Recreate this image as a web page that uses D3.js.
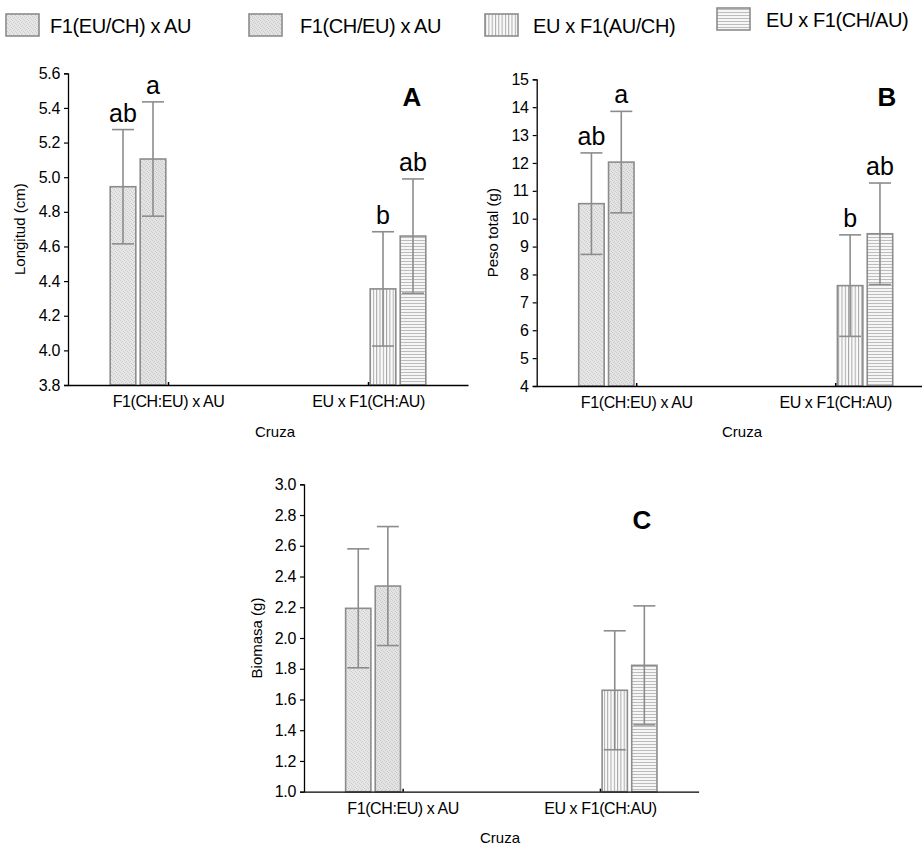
<!DOCTYPE html>
<html><head><meta charset="utf-8">
<script src="https://cdn.jsdelivr.net/npm/d3@7"></script>
<style>
html,body{margin:0;padding:0;background:#fff;}
svg{display:block;font-family:"Liberation Sans",Arial,sans-serif;}
</style></head>
<body>
<svg id="chart" width="922" height="846"></svg>
<script>
// ---------- data ----------
const categories = ["F1(CH:EU) x AU", "EU x F1(CH:AU)"];
const seriesNames = ["F1(EU/CH) x AU", "F1(CH/EU) x AU", "EU x F1(AU/CH)", "EU x F1(CH/AU)"];
const seriesCategory = [0, 0, 1, 1];
const seriesSlot = [-1.5, -0.5, 0.5, 1.5];

const longitudMean = [4.945, 5.105, 4.355, 4.66];
const longitudErr  = [0.33, 0.33, 0.33, 0.33];
const lettersA     = ["ab", "a", "b", "ab"];
const ticksA       = [3.8, 4.0, 4.2, 4.4, 4.6, 4.8, 5.0, 5.2, 5.4, 5.6];

const pesoMean = [10.54, 12.03, 7.60, 9.46];
const pesoErr  = [1.82, 1.82, 1.82, 1.82];
const lettersB = ["ab", "a", "b", "ab"];
const ticksB   = [4, 5, 6, 7, 8, 9, 10, 11, 12, 13, 14, 15];

const biomasaMean = [2.193, 2.338, 1.66, 1.822];
const biomasaErr  = [0.387, 0.387, 0.387, 0.387];
const lettersC    = ["", "", "", ""];
const ticksC      = [1.0, 1.2, 1.4, 1.6, 1.8, 2.0, 2.2, 2.4, 2.6, 2.8, 3.0];

// ---------- setup ----------
const svg = d3.select("#chart");
const defs = svg.append("defs");
const GRAY = "#8c8c8c";
const FONT = "'Liberation Sans',Arial,sans-serif";

// patterns
function stipple(id, a, b) {
  const p = defs.append("pattern").attr("id", id).attr("patternUnits", "userSpaceOnUse")
    .attr("width", 4).attr("height", 4);
  p.append("rect").attr("width", 4).attr("height", 4).attr("fill", a);
  [[0, 0], [2, 1], [1, 2], [3, 3]].forEach(([dx, dy]) =>
    p.append("rect").attr("x", dx).attr("y", dy).attr("width", 1).attr("height", 1).attr("fill", b));
}
stipple("pat0", "#e6e6e6", "#cdcdcd");
stipple("pat1", "#e3e3e3", "#cacaca");
(function () {
  const p = defs.append("pattern").attr("id", "pat2").attr("patternUnits", "userSpaceOnUse")
    .attr("width", 3.3).attr("height", 4);
  p.append("rect").attr("width", 3.3).attr("height", 4).attr("fill", "#fafafa");
  p.append("rect").attr("x", 0).attr("width", 1).attr("height", 4).attr("fill", "#a8a8a8");
  const q = defs.append("pattern").attr("id", "pat3").attr("patternUnits", "userSpaceOnUse")
    .attr("width", 4).attr("height", 3);
  q.append("rect").attr("width", 4).attr("height", 3).attr("fill", "#f6f6f6");
  q.append("rect").attr("y", 0).attr("width", 4).attr("height", 1).attr("fill", "#bcbcbc");
})();
const fills = ["url(#pat0)", "url(#pat1)", "url(#pat2)", "url(#pat3)"];

// ---------- legend ----------
const legendLayout = [
  {sx: 6, sy: 14, tx: 50, ty: 33},
  {sx: 249, sy: 14, tx: 300, ty: 33},
  {sx: 485, sy: 14, tx: 533, ty: 33},
  {sx: 717, sy: 8, tx: 766, ty: 27}
];
const lg = svg.append("g");
seriesNames.forEach((name, i) => {
  const L = legendLayout[i];
  lg.append("rect").attr("x", L.sx).attr("y", L.sy).attr("width", 33).attr("height", 22)
    .attr("fill", fills[i]).attr("stroke", GRAY).attr("stroke-width", 1.6);
  lg.append("text").attr("x", L.tx).attr("y", L.ty).attr("font-size", 20)
    .attr("letter-spacing", -0.4).attr("fill", "#000").text(name);
});

// ---------- panels ----------
const panels = [
  {mean: longitudMean, err: longitudErr, letters: lettersA, ticks: ticksA, fmt: d3.format(".1f"),
   yLabel: "Longitud (cm)", tag: "A",
   x0: 68, unit: 200, yTop: 73.3, yBot: 385, ylx: 20, xTitleX: 275, xTitleY: 437, tagX: 412, tagY: 106},
  {mean: pesoMean, err: pesoErr, letters: lettersB, ticks: ticksB, fmt: d3.format("d"),
   yLabel: "Peso total (g)", tag: "B",
   x0: 536.7, unit: 199, yTop: 79.3, yBot: 386, ylx: 493, xTitleX: 742, xTitleY: 437, tagX: 887, tagY: 106},
  {mean: biomasaMean, err: biomasaErr, letters: lettersC, ticks: ticksC, fmt: d3.format(".1f"),
   yLabel: "Biomasa (g)", tag: "C",
   x0: 304, unit: 197.3, yTop: 484.3, yBot: 791.7, ylx: 257, xTitleX: 500, xTitleY: 843, tagX: 642, tagY: 529}
];

const pitch = 0.15, bw = 0.128;

panels.forEach(P => {
  const g = svg.append("g");
  const x = d3.scaleLinear().domain([0.5, 2.5]).range([P.x0, P.x0 + 2 * P.unit]);
  const y = d3.scaleLinear().domain([P.ticks[0], P.ticks[P.ticks.length - 1]]).range([P.yBot, P.yTop]);

  // bars
  P.mean.forEach((m, i) => {
    const c = seriesCategory[i] + 1 + seriesSlot[i] * pitch;
    const xl = x(c - bw / 2), xr = x(c + bw / 2);
    g.append("rect").attr("x", xl).attr("y", y(m)).attr("width", xr - xl).attr("height", y.range()[0] - y(m))
      .attr("fill", fills[i]).attr("stroke", GRAY).attr("stroke-width", 1.6);
  });
  // error bars
  P.mean.forEach((m, i) => {
    const c = x(seriesCategory[i] + 1 + seriesSlot[i] * pitch);
    const hi = y(m + P.err[i]), lo = y(m - P.err[i]);
    const cw = 11;
    g.append("line").attr("x1", c).attr("x2", c).attr("y1", hi).attr("y2", lo)
      .attr("stroke", GRAY).attr("stroke-width", 1.6);
    [hi, lo].forEach(yy => g.append("line").attr("x1", c - cw).attr("x2", c + cw)
      .attr("y1", yy).attr("y2", yy).attr("stroke", GRAY).attr("stroke-width", 1.6));
    if (P.letters[i]) {
      g.append("text").attr("x", c).attr("y", hi - 8).attr("text-anchor", "middle")
        .attr("font-size", 25).attr("fill", "#000").text(P.letters[i]);
    }
  });

  // y axis
  const ya = g.append("g").attr("transform", `translate(${P.x0},0)`)
    .call(d3.axisLeft(y).tickValues(P.ticks).tickFormat(P.fmt).tickSizeOuter(0).tickSize(4).tickPadding(4));
  ya.select(".domain").attr("stroke", "#000").attr("stroke-width", 1.3);
  ya.selectAll(".tick line").attr("stroke", "#000").attr("stroke-width", 1.2);
  ya.selectAll(".tick text").attr("font-size", 16).attr("fill", "#000")
    .attr("font-family", FONT).attr("letter-spacing", -0.3);

  // x axis
  const xa = g.append("g").attr("transform", `translate(0,${P.yBot})`)
    .call(d3.axisBottom(x).tickValues([1, 2]).tickFormat((d) => categories[d - 1])
      .tickSizeOuter(0).tickSizeInner(-3).tickPadding(11));
  xa.select(".domain").attr("stroke", "#000").attr("stroke-width", 1.3);
  xa.selectAll(".tick line").attr("stroke", "#000").attr("stroke-width", 1.5);
  xa.selectAll(".tick text").attr("font-size", 16).attr("fill", "#000")
    .attr("font-family", FONT).attr("letter-spacing", -0.4);

  // axis titles
  g.append("text").attr("transform", `translate(${P.ylx},${(P.yTop + P.yBot) / 2}) rotate(-90)`)
    .attr("text-anchor", "middle").attr("dy", "0.35em").attr("font-size", 15).attr("fill", "#000")
    .text(P.yLabel);
  g.append("text").attr("x", P.xTitleX).attr("y", P.xTitleY).attr("text-anchor", "middle")
    .attr("font-size", 15).attr("fill", "#000").text("Cruza");

  // panel tag
  g.append("text").attr("x", P.tagX).attr("y", P.tagY).attr("text-anchor", "middle")
    .attr("font-size", 26).attr("font-weight", "bold").attr("fill", "#000").text(P.tag);
});
</script>
</body></html>
